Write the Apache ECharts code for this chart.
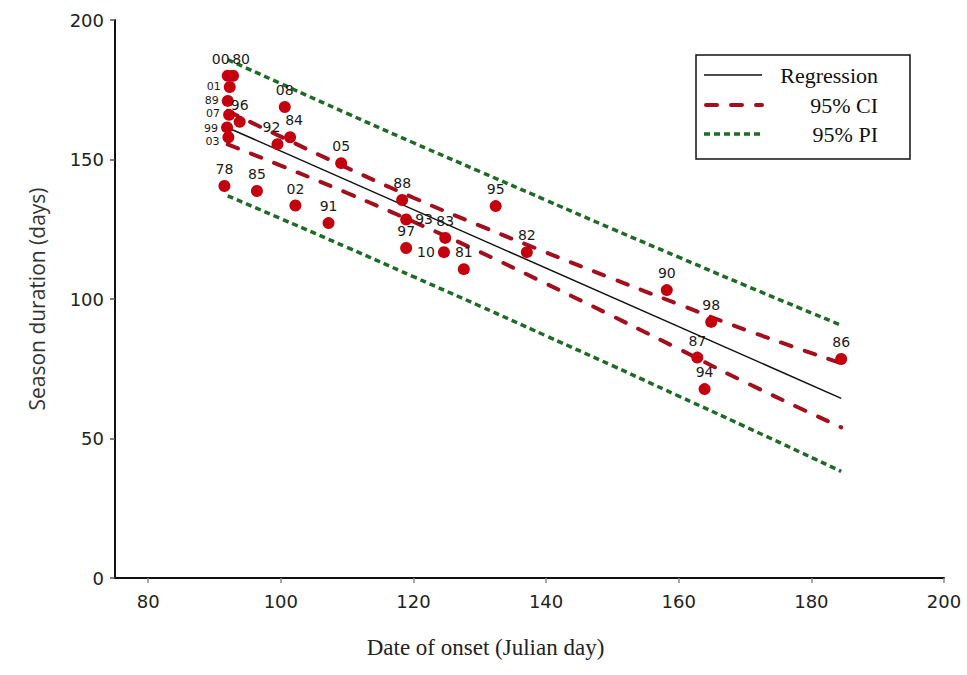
<!DOCTYPE html>
<html>
<head>
<meta charset="utf-8">
<script src="https://cdn.jsdelivr.net/npm/echarts@6/dist/echarts.min.js"></script>
<style>
html,body{margin:0;padding:0;background:#fff;}
#chart{width:967px;height:675px;}
</style>
</head>
<body>
<div id="chart"></div>
<script>
// ---- data ----
const yearLabels = ['78','85','02','91','05','08','84','92','96','88','93','97','83','10','81','95','82','90','98','87','94','86','00','80','01','89','07','99','03'];
const onsetDay   = [91.5, 96.4, 102.2, 107.2, 109.1, 100.6, 101.4, 99.5, 93.8, 118.3, 118.9, 118.9, 124.8, 124.6, 127.6, 132.4, 137.1, 158.2, 164.9, 162.8, 163.9, 184.5, 92.0, 92.8, 92.3, 92.0, 92.2, 91.9, 92.1];
const seasonDays = [140.5, 138.7, 133.5, 127.2, 148.7, 168.8, 158.0, 155.5, 163.5, 135.5, 128.5, 118.3, 121.9, 116.8, 110.7, 133.3, 116.8, 103.2, 91.8, 79.0, 67.7, 78.5, 180.0, 180.0, 176.0, 171.0, 166.0, 161.5, 158.0];

const regX = [92, 184.5];
const regY = [161.4, 64.4];

const bandX   = [92, 100, 110, 120, 130, 140, 150, 160, 170, 184.5];
const ciUpper = [167.4, 158.2, 147.0, 136.3, 126.3, 116.7, 107.3, 98.1, 89.0, 77.0];
const ciLower = [155.4, 147.8, 138.0, 127.7, 116.9, 105.5, 93.9, 82.1, 70.2, 54.0];
const piUpper = [185.8, 177.2, 166.5, 156.0, 145.7, 135.4, 125.1, 115.0, 104.9, 90.6];
const piLower = [137.0, 128.8, 118.5, 108.0, 97.5, 86.8, 76.1, 65.2, 54.3, 38.2];

const xTicks = [80, 100, 120, 140, 160, 180, 200];
const legendNames = ['Regression', '95% CI', '95% PI'];

// label placement tweaks for crowded points (style only)
const labelTweaks = {
  '00': {offset: [-7, 0]},
  '80': {offset: [8, 0]},
  '01': {position: 'left', distance: 3, fontSize: 11},
  '89': {position: 'left', distance: 3, fontSize: 11},
  '07': {position: 'left', distance: 3, fontSize: 11, offset: [0, -1]},
  '99': {position: 'left', distance: 3, fontSize: 11, offset: [0, 1]},
  '03': {position: 'left', distance: 3, fontSize: 11, offset: [0, 4]},
  '92': {offset: [-6, 0]},
  '84': {offset: [4, 0]},
  '93': {position: 'right', distance: 3},
  '10': {position: 'left', distance: 3}
};

// ---- styles ----
const RED_PT = '#c4000f';
const RED_LN = '#a30f1c';
const GREEN = '#1f6a26';
const zip = (xs, ys) => xs.map((x, i) => [x, ys[i]]);

const chart = echarts.init(document.getElementById('chart'), null, {renderer: 'svg'});

const legX = 696, legY = 55, legW = 214, legH = 104;
const rows = [75, 105, 134];
const legFont = '22px "Liberation Serif"';

const scatterData = onsetDay.map((x, i) => {
  const d = {value: [x, seasonDays[i], yearLabels[i]]};
  const t = labelTweaks[yearLabels[i]];
  if (t) d.label = t;
  return d;
});

chart.setOption({
  animation: false,
  backgroundColor: '#fff',
  grid: {left: 115, right: 23, top: 20, bottom: 97},
  xAxis: {
    type: 'value', min: 75, max: 200,
    name: 'Date of onset (Julian day)',
    nameLocation: 'middle', nameGap: 58,
    nameTextStyle: {fontFamily: 'Liberation Serif', fontSize: 23, color: '#222', padding: [0, 88, 0, 0]},
    axisLine: {show: true, onZero: false, lineStyle: {color: '#111', width: 2}},
    axisTick: {show: true, length: 5, customValues: xTicks, lineStyle: {color: '#888', width: 1.5}},
    axisLabel: {customValues: xTicks, margin: 14, fontFamily: 'DejaVu Sans', fontSize: 18, color: '#222'},
    splitLine: {show: false}
  },
  yAxis: {
    type: 'value', min: 0, max: 200, interval: 50,
    name: 'Season duration (days)',
    nameLocation: 'middle', nameGap: 68, nameRotate: 90,
    nameTextStyle: {fontFamily: 'Open Sans', fontSize: 21, color: '#333'},
    axisLine: {show: true, onZero: false, lineStyle: {color: '#111', width: 2}},
    axisTick: {show: true, length: 5, lineStyle: {color: '#555', width: 1.5}},
    axisLabel: {margin: 11, fontFamily: 'DejaVu Sans', fontSize: 18, color: '#222'},
    splitLine: {show: false}
  },
  series: [
    {
      name: legendNames[2], type: 'line', data: zip(bandX, piUpper), showSymbol: false, smooth: true,
      lineStyle: {color: GREEN, width: 3.5, type: [6, 4]}, z: 2
    },
    {
      name: legendNames[2] + ' lower', type: 'line', data: zip(bandX, piLower), showSymbol: false, smooth: true,
      lineStyle: {color: GREEN, width: 3.5, type: [6, 4]}, z: 2
    },
    {
      name: legendNames[1], type: 'line', data: zip(bandX, ciUpper), showSymbol: false, smooth: true,
      lineStyle: {color: RED_LN, width: 4, type: [11, 14], cap: 'round'}, z: 3
    },
    {
      name: legendNames[1] + ' lower', type: 'line', data: zip(bandX, ciLower), showSymbol: false, smooth: true,
      lineStyle: {color: RED_LN, width: 4, type: [11, 14], cap: 'round'}, z: 3
    },
    {
      name: legendNames[0], type: 'line', data: zip(regX, regY), showSymbol: false,
      lineStyle: {color: '#111', width: 1.5}, z: 4
    },
    {
      name: 'Years', type: 'scatter', z: 5,
      data: scatterData,
      symbolSize: 12,
      itemStyle: {color: RED_PT, opacity: 1},
      label: {
        show: true, position: 'top', distance: 4,
        formatter: p => p.value[2],
        fontFamily: 'DejaVu Sans', fontSize: 14, color: '#1a1a1a'
      }
    }
  ],
  graphic: [
    {type: 'rect', shape: {x: legX, y: legY, width: legW, height: legH},
     style: {fill: '#fff', stroke: '#111', lineWidth: 1.5}, z: 10},
    {type: 'line', shape: {x1: 704, y1: rows[0], x2: 762, y2: rows[0]},
     style: {stroke: '#111', lineWidth: 1.5}, z: 11},
    {type: 'line', shape: {x1: 706, y1: rows[1], x2: 762, y2: rows[1]},
     style: {stroke: RED_LN, lineWidth: 4, lineDash: [11, 14], lineCap: 'round'}, z: 11},
    {type: 'line', shape: {x1: 704, y1: rows[2], x2: 764, y2: rows[2]},
     style: {stroke: GREEN, lineWidth: 3.5, lineDash: [6, 4]}, z: 11},
    {type: 'text', x: 878, y: rows[0], z: 11,
     style: {text: legendNames[0], align: 'right', verticalAlign: 'middle', font: legFont, fill: '#111'}},
    {type: 'text', x: 878, y: rows[1], z: 11,
     style: {text: legendNames[1], align: 'right', verticalAlign: 'middle', font: legFont, fill: '#111'}},
    {type: 'text', x: 878, y: rows[2], z: 11,
     style: {text: legendNames[2], align: 'right', verticalAlign: 'middle', font: legFont, fill: '#111'}}
  ]
});
</script>
</body>
</html>
